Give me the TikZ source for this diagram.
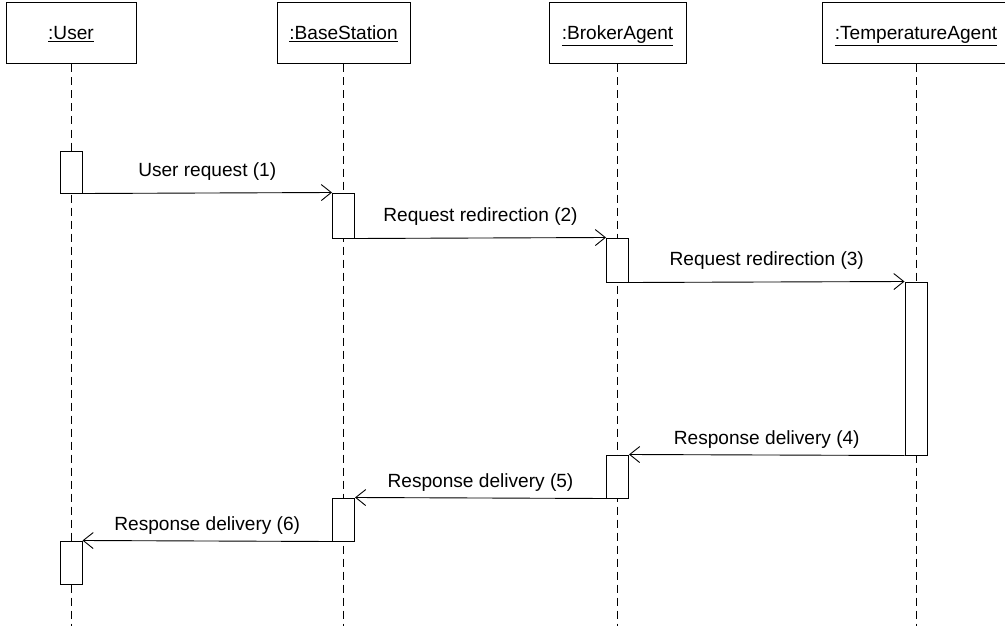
\documentclass[tikz,border=0pt]{standalone}
\usepackage{fontspec}
\setmainfont{Liberation Sans}
\usetikzlibrary{arrows.meta}
\begin{document}
\begin{tikzpicture}[x=1pt,y=-1pt,
  every node/.style={font=\fontsize{19.1}{22}\selectfont},
  objbox/.style={draw, line width=1pt, fill=white, inner sep=0pt, minimum height=61pt},
  lifeline/.style={line width=0.9pt, dash pattern=on 8pt off 5pt},
  actbox/.style={draw, line width=1pt, fill=white, inner sep=0pt, minimum width=22pt},
  msg/.style={line width=0.9pt, -{Straight Barb[length=10pt,width=16pt,line width=0.9pt]}},
  reqlabel/.style={midway, anchor=base, yshift=17pt, inner sep=0pt},
  reslabel/.style={midway, anchor=base, yshift=11pt, inner sep=0pt}
]
\useasboundingbox (0,0) rectangle (1005,626);
\clip (0,0) rectangle (1005,626);

% object heads
\node[objbox, minimum width=130pt] (user) at (71,33.5) {};
\node[objbox, minimum width=133pt] (base) at (343.5,33.5) {};
\node[objbox, minimum width=137pt] (broker) at (617.5,33.5) {};
\node[objbox, minimum width=188pt] (temp) at (916,33.5) {};

% object names, set on a common baseline
\node[anchor=base, inner sep=0pt] (userName) at (71,40) {\underline{:User}};
\node[anchor=base, inner sep=0pt] (baseName) at (343.5,40) {\underline{:BaseStation}};
\node[anchor=base, inner sep=0pt] (brokerName) at (617.5,40) {\underline{:BrokerAgent}};
\node[anchor=base, inner sep=0pt] (tempName) at (916,40) {\underline{:TemperatureAgent}};

% lifeline ends
\coordinate (userEnd) at (71,630);
\coordinate (baseEnd) at (343.5,630);
\coordinate (brokerEnd) at (617.5,630);
\coordinate (tempEnd) at (916,630);

\draw[lifeline] (user.south) -- (userEnd);
\draw[lifeline] (base.south) -- (baseEnd);
\draw[lifeline] (broker.south) -- (brokerEnd);
\draw[lifeline] (temp.south) -- (tempEnd);

% activation bars
\node[actbox, minimum height=42pt] (uA) at (71,172) {};
\node[actbox, minimum height=45pt] (bA) at (343.5,215.5) {};
\node[actbox, minimum height=44pt] (kA) at (617.5,260) {};
\node[actbox, minimum height=173pt] (tA) at (916,368.5) {};
\node[actbox, minimum height=43pt] (kB) at (617.5,476.5) {};
\node[actbox, minimum height=43pt] (bB) at (343.5,519.5) {};
\node[actbox, minimum height=43pt] (uB) at (71,562.5) {};

% messages
\draw[msg] (uA.south east) -- (bA.north west) node[reqlabel] {User request (1)};
\draw[msg] (bA.south east) -- (kA.north west) node[reqlabel] {Request redirection (2)};
\draw[msg] (kA.south east) -- (tA.north west) node[reqlabel] {Request redirection (3)};
\draw[msg] (tA.south west) -- (kB.north east) node[reslabel] {Response delivery (4)};
\draw[msg] (kB.south west) -- (bB.north east) node[reslabel] {Response delivery (5)};
\draw[msg] (bB.south west) -- (uB.north east) node[reslabel] {Response delivery (6)};
\end{tikzpicture}
\end{document}
